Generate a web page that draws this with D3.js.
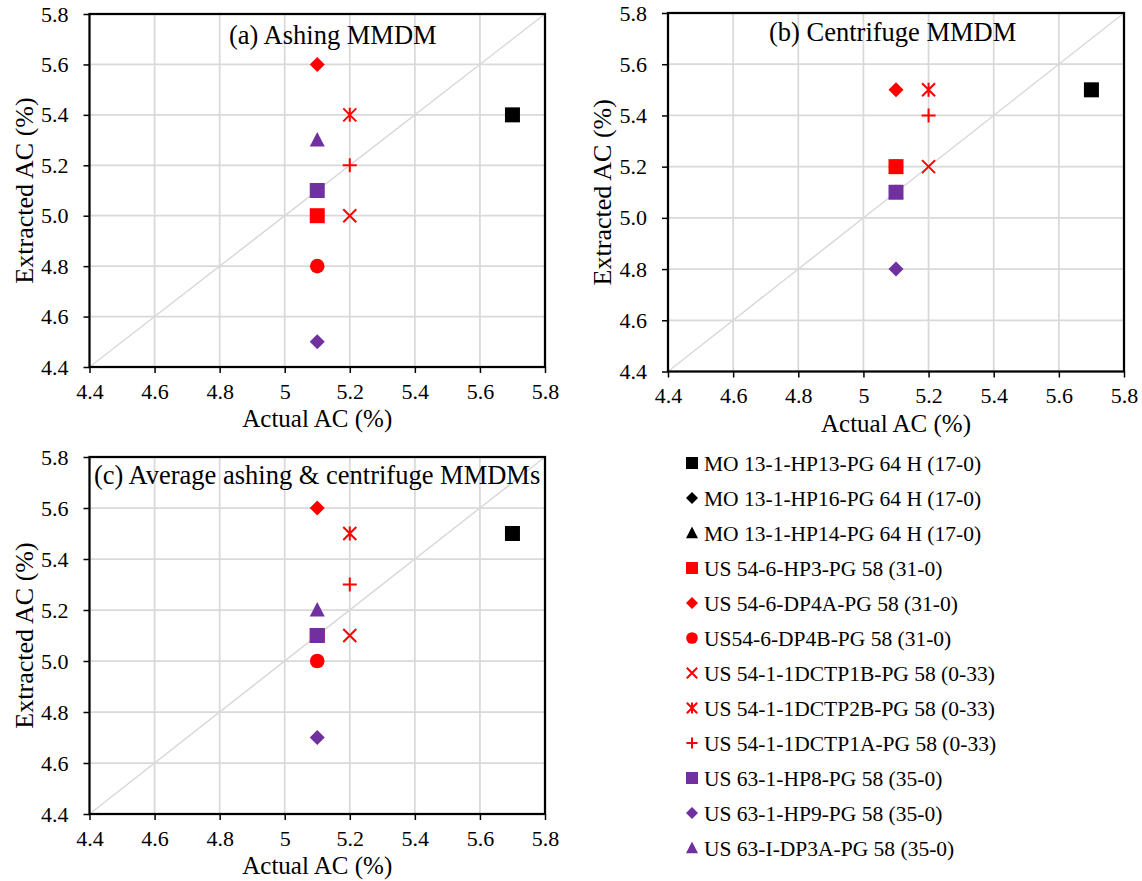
<!DOCTYPE html>
<html>
<head>
<meta charset="utf-8">
<script src="https://cdn.jsdelivr.net/npm/d3@7"></script>
<style>
body { margin: 0; background: #fff; }
svg { font-family: "Liberation Serif", "Times New Roman", serif; }
</style>
</head>
<body>
<script>
// series, in legend order
var seriesNames = [
  "MO 13-1-HP13-PG 64 H (17-0)",
  "MO 13-1-HP16-PG 64 H (17-0)",
  "MO 13-1-HP14-PG 64 H (17-0)",
  "US 54-6-HP3-PG 58 (31-0)",
  "US 54-6-DP4A-PG 58 (31-0)",
  "US54-6-DP4B-PG 58 (31-0)",
  "US 54-1-1DCTP1B-PG 58 (0-33)",
  "US 54-1-1DCTP2B-PG 58 (0-33)",
  "US 54-1-1DCTP1A-PG 58 (0-33)",
  "US 63-1-HP8-PG 58 (35-0)",
  "US 63-1-HP9-PG 58 (35-0)",
  "US 63-I-DP3A-PG 58 (35-0)"
];

// actual AC (x) and extracted AC (y) for each panel, null = no point
var actualAC     = [5.7, null, null, 5.1, 5.1, 5.1, 5.2, 5.2, 5.2, 5.1, 5.1, 5.1];
var ashingAC     = [5.4, null, null, 5.0, 5.6, 4.8, 5.0, 5.4, 5.2, 5.1, 4.5, 5.3];
var centrifugeAC = [5.5, null, null, 5.2, 5.5, 5.2, 5.2, 5.5, 5.4, 5.1, 4.8, 5.1];
var averageAC    = [5.5, null, null, 5.1, 5.6, 5.0, 5.1, 5.5, 5.3, 5.1, 4.7, 5.2];

var axisTicks = [4.4, 4.6, 4.8, 5.0, 5.2, 5.4, 5.6, 5.8];
var xTickLabels = ["4.4", "4.6", "4.8", "5", "5.2", "5.4", "5.6", "5.8"];
var yTickLabels = ["4.4", "4.6", "4.8", "5.0", "5.2", "5.4", "5.6", "5.8"];

var panelTitles = ["(a) Ashing MMDM", "(b) Centrifuge MMDM", "(c) Average ashing & centrifuge MMDMs"];
var panelValues = [ashingAC, centrifugeAC, averageAC];

// marker look for each series
var black = "#000000", red = "#ff0000", purple = "#7030a0";
var markerShape = ["square", "diamond", "triangle", "square", "diamond", "circle",
                   "x", "asterisk", "plus", "square", "diamond", "triangle"];
var markerColor = [black, black, black, red, red, red, red, red, red, purple, purple, purple];

// plot boxes
var panels = [
  {left: 89.5, top: 14, w: 455.5, h: 353, titleX: 229, titleY: 44},
  {left: 668, top: 13, w: 456, h: 358.5, titleX: 769, titleY: 41},
  {left: 89.5, top: 457, w: 455.5, h: 357, titleX: 94, titleY: 484}
];

function markerPath(shape, k) {
  var p = d3.path();
  if (shape == "square") { var s = 7.5 * k; p.rect(-s, -s, 2 * s, 2 * s); }
  else if (shape == "diamond") { var r = 7.5 * k; p.moveTo(0, -r); p.lineTo(r, 0); p.lineTo(0, r); p.lineTo(-r, 0); p.closePath(); }
  else if (shape == "triangle") { p.moveTo(0, -8 * k); p.lineTo(7.5 * k, 6.5 * k); p.lineTo(-7.5 * k, 6.5 * k); p.closePath(); }
  else if (shape == "circle") { p.arc(0, 0, 7.3 * k, 0, 2 * Math.PI); }
  else if (shape == "x") { var a = 6.5 * k; p.moveTo(-a, -a); p.lineTo(a, a); p.moveTo(-a, a); p.lineTo(a, -a); }
  else if (shape == "asterisk") { var a = 6.5 * k; p.moveTo(-a, -a); p.lineTo(a, a); p.moveTo(-a, a); p.lineTo(a, -a); p.moveTo(0, -7 * k); p.lineTo(0, 7 * k); }
  else if (shape == "plus") { var a = 7 * k; p.moveTo(-a, 0); p.lineTo(a, 0); p.moveTo(0, -a); p.lineTo(0, a); }
  return p.toString();
}
function isStroke(shape) { return shape == "x" || shape == "asterisk" || shape == "plus"; }

var svg = d3.select("body").append("svg")
  .attr("width", 1142)
  .attr("height", 881);

panels.forEach(function(pn, pi) {
  var x = d3.scaleLinear().domain([4.4, 5.8]).range([0, pn.w]);
  var y = d3.scaleLinear().domain([4.4, 5.8]).range([pn.h, 0]);

  var g = svg.append("g").attr("transform", "translate(" + pn.left + "," + pn.top + ")");

  // gridlines
  g.append("g").selectAll("line.vg")
    .data(axisTicks.slice(1, -1))
    .enter().append("line")
    .attr("x1", function(d) { return x(d); }).attr("x2", function(d) { return x(d); })
    .attr("y1", 0).attr("y2", pn.h)
    .attr("stroke", "#d9d9d9").attr("stroke-width", 1.75);
  g.append("g").selectAll("line.hg")
    .data(axisTicks.slice(1, -1))
    .enter().append("line")
    .attr("y1", function(d) { return y(d); }).attr("y2", function(d) { return y(d); })
    .attr("x1", 0).attr("x2", pn.w)
    .attr("stroke", "#d9d9d9").attr("stroke-width", 1.75);

  // 1:1 line
  g.append("line")
    .attr("x1", x(4.4)).attr("y1", y(4.4))
    .attr("x2", x(5.8)).attr("y2", y(5.8))
    .attr("stroke", "#d9d9d9").attr("stroke-width", 1.5);

  // axes
  var xAxis = d3.axisBottom(x).tickValues(axisTicks)
    .tickFormat(function(d, i) { return xTickLabels[i]; })
    .tickSize(6).tickSizeOuter(0).tickPadding(10);
  var yAxis = d3.axisLeft(y).tickValues(axisTicks)
    .tickFormat(function(d, i) { return yTickLabels[i]; })
    .tickSize(6).tickSizeOuter(0).tickPadding(15);

  var gx = g.append("g").attr("transform", "translate(0," + pn.h + ")").call(xAxis);
  var gy = g.append("g").call(yAxis);
  [gx, gy].forEach(function(a) {
    a.attr("font-family", "'Liberation Serif', serif").attr("font-size", 22);
    a.select(".domain").remove();
    a.selectAll(".tick line").attr("stroke", "#000").attr("stroke-width", 1.5);
    a.selectAll(".tick text").attr("fill", "#000");
  });

  // frame
  g.append("rect")
    .attr("x", 0).attr("y", 0).attr("width", pn.w).attr("height", pn.h)
    .attr("fill", "none").attr("stroke", "#000").attr("stroke-width", 2.25);

  // axis titles
  g.append("text")
    .attr("x", pn.w / 2).attr("y", pn.h + 60)
    .attr("text-anchor", "middle")
    .style("font-size", "25px")
    .text("Actual AC (%)");
  g.append("text")
    .attr("transform", "translate(-66," + (pn.h / 2) + ") rotate(-90)")
    .attr("dy", "0.35em")
    .attr("text-anchor", "middle")
    .style("font-size", "26px")
    .text("Extracted AC (%)");

  // points
  var vals = panelValues[pi];
  var pts = seriesNames.map(function(name, i) {
    return {i: i, ax: actualAC[i], ex: vals[i]};
  }).filter(function(d) { return d.ax != null && d.ex != null; });

  g.selectAll(".pt")
    .data(pts)
    .enter().append("path")
    .attr("class", "pt")
    .attr("transform", function(d) { return "translate(" + x(d.ax) + "," + y(d.ex) + ")"; })
    .attr("d", function(d) { return markerPath(markerShape[d.i], 1); })
    .attr("fill", function(d) { return isStroke(markerShape[d.i]) ? "none" : markerColor[d.i]; })
    .attr("stroke", function(d) { return isStroke(markerShape[d.i]) ? markerColor[d.i] : "none"; })
    .attr("stroke-width", 2);

  // panel title
  svg.append("text")
    .attr("x", pn.titleX).attr("y", pn.titleY)
    .style("font-size", "26.5px")
    .text(panelTitles[pi]);
});

// legend
var legend = svg.append("g").attr("transform", "translate(692,463)");
var rows = legend.selectAll(".row")
  .data(seriesNames)
  .enter().append("g")
  .attr("class", "row")
  .attr("transform", function(d, i) { return "translate(0," + (i * 35) + ")"; });

rows.append("path")
  .attr("d", function(d, i) { return markerPath(markerShape[i], 0.8); })
  .attr("fill", function(d, i) { return isStroke(markerShape[i]) ? "none" : markerColor[i]; })
  .attr("stroke", function(d, i) { return isStroke(markerShape[i]) ? markerColor[i] : "none"; })
  .attr("stroke-width", 2);

rows.append("text")
  .attr("x", 12)
  .attr("dy", "0.35em")
  .style("font-size", "21.5px")
  .text(function(d) { return d; });
</script>
</body>
</html>
